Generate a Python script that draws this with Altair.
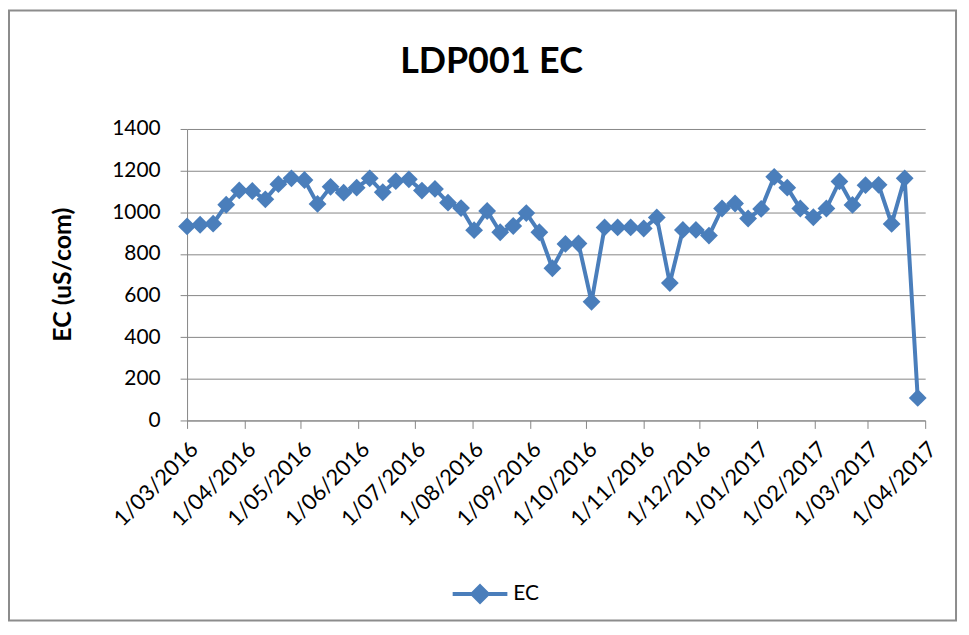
import altair as alt
import pandas as pd

dates = [
    "2016-03-01", "2016-03-08", "2016-03-15", "2016-03-22", "2016-03-29",
    "2016-04-05", "2016-04-12", "2016-04-19", "2016-04-26",
    "2016-05-03", "2016-05-10", "2016-05-17", "2016-05-24", "2016-05-31",
    "2016-06-07", "2016-06-14", "2016-06-21", "2016-06-28",
    "2016-07-05", "2016-07-12", "2016-07-19", "2016-07-26",
    "2016-08-02", "2016-08-09", "2016-08-16", "2016-08-23", "2016-08-30",
    "2016-09-06", "2016-09-13", "2016-09-20", "2016-09-27",
    "2016-10-04", "2016-10-11", "2016-10-18", "2016-10-25",
    "2016-11-01", "2016-11-08", "2016-11-15", "2016-11-22", "2016-11-29",
    "2016-12-06", "2016-12-13", "2016-12-20", "2016-12-27",
    "2017-01-03", "2017-01-10", "2017-01-17", "2017-01-24", "2017-01-31",
    "2017-02-07", "2017-02-14", "2017-02-21", "2017-02-28",
    "2017-03-07", "2017-03-14", "2017-03-21", "2017-03-28",
]
ec_values = [
    932, 940, 945, 1036, 1105, 1102, 1062, 1135, 1163, 1155,
    1040, 1122, 1094, 1118, 1163, 1096, 1150, 1158, 1104, 1112,
    1046, 1020, 914, 1006, 904, 934, 996, 904, 731, 848,
    850, 570, 927, 927, 927, 922, 975, 660, 915, 915,
    888, 1018, 1042, 970, 1016, 1170, 1118, 1018, 976, 1018,
    1148, 1035, 1130, 1132, 944, 1163, 108,
]
series_name = "EC"
y_ticks = [0, 200, 400, 600, 800, 1000, 1200, 1400]
month_ticks = [(2016, m) for m in range(3, 13)] + [(2017, m) for m in range(1, 5)]

df = pd.DataFrame({
    "date": [d + "T00:00:00" for d in dates],
    "EC": ec_values,
    "series": [series_name] * len(dates),
})

blue = "#4A7EBB"
grey = "#868686"
font = "Lato"

x_enc = alt.X(
    "date:T",
    title=None,
    scale=alt.Scale(
        domain=[alt.DateTime(year=2016, month=3, date=1),
                alt.DateTime(year=2017, month=4, date=1)],
        nice=False,
    ),
    axis=alt.Axis(
        values=[alt.DateTime(year=y, month=m, date=1) for y, m in month_ticks],
        format="%-d/%m/%Y",
        labelAngle=-45,
        labelAlign="right",
        labelBaseline="top",
        labelPadding=10,
        labelFontSize=22,
        tickSize=8,
        grid=False,
        labelOverlap=False,
    ),
)
y_enc = alt.Y(
    "EC:Q",
    scale=alt.Scale(domain=[0, 1400], nice=False),
    axis=alt.Axis(
        values=y_ticks,
        format="d",
        title="EC (uS/com)",
        titleAngle=-90,
        titleX=-125,
        titleY=146,
        titleAlign="center",
        titleBaseline="middle",
        tickSize=7,
        labelPadding=20,
        grid=True,
    ),
)
color_enc = alt.Color(
    "series:N",
    scale=alt.Scale(range=[blue]),
    legend=alt.Legend(
        title=None,
        orient="none",
        legendX=265,
        legendY=438,
        symbolType="M-1,0L1,0M0,-0.28L0.28,0L0,0.28L-0.28,0Z",
        symbolSize=3025,
        symbolStrokeWidth=4,
        symbolFillColor=blue,
        symbolStrokeColor=blue,
        labelFontSize=21,
        labelFont=font,
        labelColor="black",
        labelOffset=4,
    ),
)

base = alt.Chart(df)
line = base.mark_line(strokeWidth=4).encode(x=x_enc, y=y_enc, color=color_enc)
points = base.mark_point(shape="diamond", filled=True, size=320, opacity=1).encode(
    x=x_enc, y=y_enc, color=color_enc
)
frame = alt.Chart(pd.DataFrame({"k": [0]})).mark_rect(
    fill=None, stroke="#8c8c8c", strokeWidth=2
).encode(
    x=alt.value(-179), x2=alt.value(773), y=alt.value(-119), y2=alt.value(494)
)

chart = alt.layer(line, points, frame).properties(
    width=742,
    height=293,
    autosize="none",
    padding={"left": 180, "top": 120, "right": 36, "bottom": 202},
    title=alt.TitleParams(
        "LDP001 EC",
        fontSize=36,
        fontWeight="bold",
        font=font,
        color="black",
        anchor="middle",
        frame="group",
        dx=-65,
        offset=-100,
        baseline="alphabetic",
    ),
).configure_view(stroke=None).configure_axis(
    gridColor=grey,
    domainColor=grey,
    tickColor=grey,
    labelFont=font,
    labelFontSize=21,
    labelColor="black",
    titleFont=font,
    titleFontSize=25,
    titleFontWeight="bold",
    titleColor="black",
)

chart.save("out.html", embed_options={"renderer": "svg", "actions": False})
